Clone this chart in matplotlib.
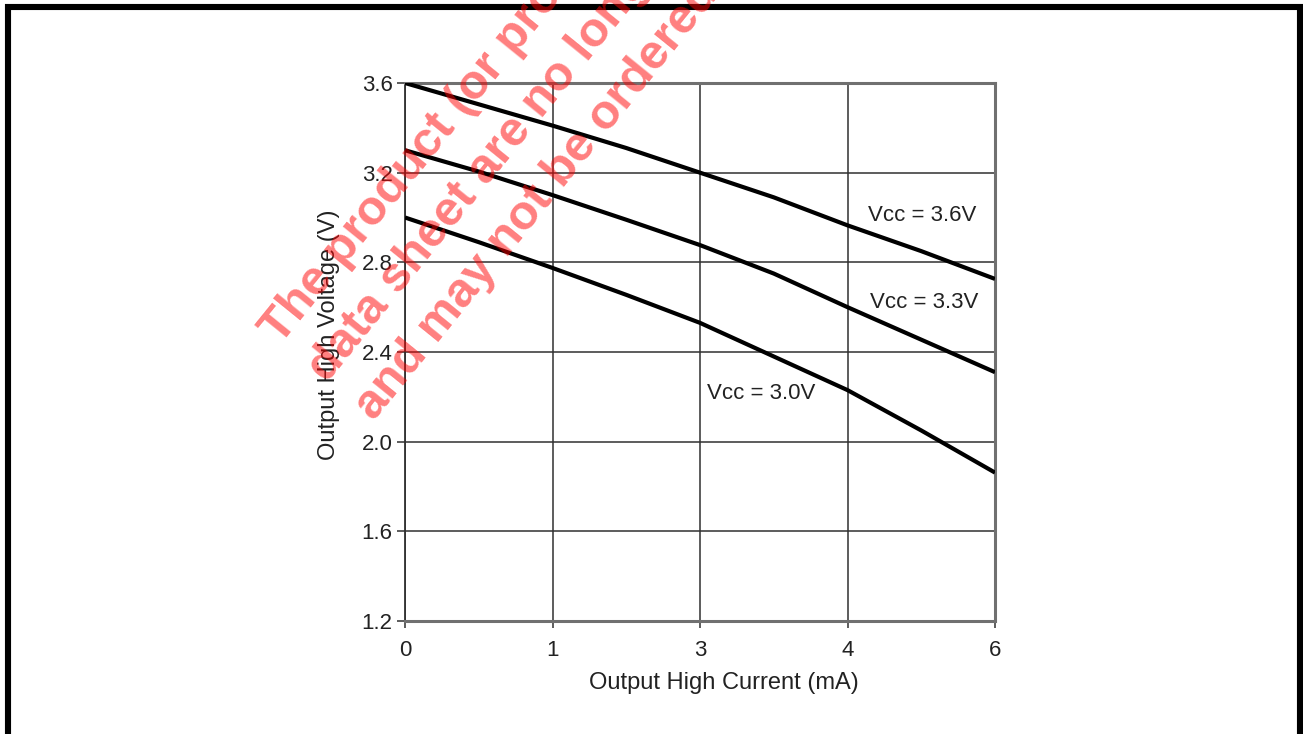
import matplotlib.pyplot as plt
from matplotlib.lines import Line2D

# x positions on the (equally spaced) grid, labels as printed on the chart
current_pos = [0, 0.5, 1, 1.5, 2, 2.5, 3, 3.5, 4]
tick_pos = [0, 1, 2, 3, 4]
tick_labels = ['0', '1', '3', '4', '6']

voh_36 = [3.60, 3.505, 3.41, 3.31, 3.20, 3.09, 2.965, 2.85, 2.726]
voh_33 = [3.30, 3.205, 3.10, 2.99, 2.877, 2.75, 2.60, 2.455, 2.31]
voh_30 = [3.00, 2.89, 2.775, 2.655, 2.53, 2.38, 2.23, 2.05, 1.862]

curve_labels = ['Vcc = 3.6V', 'Vcc = 3.3V', 'Vcc = 3.0V']
label_xy = [(3.14, 3.011), (3.15, 2.619), (2.05, 2.217)]

plt.rcParams['font.family'] = ['Liberation Sans', 'DejaVu Sans']

fig = plt.figure(figsize=(13.03, 7.34), dpi=100)
ax = fig.add_axes([405 / 1303, 113 / 734, 590 / 1303, 538 / 734])

for ys in (voh_36, voh_33, voh_30):
    ax.plot(current_pos, ys, color='black', lw=3.0, solid_capstyle='butt', zorder=3)

for txt, (x, y) in zip(curve_labels, label_xy):
    ax.text(x, y, txt, fontsize=16, color='#222222', ha='left', va='center', zorder=4)

ax.set_xlim(0, 4)
ax.set_ylim(1.2, 3.6)
ax.set_xticks(tick_pos)
ax.set_xticklabels(tick_labels)
ax.set_yticks([1.2, 1.6, 2.0, 2.4, 2.8, 3.2, 3.6])
ax.set_yticklabels(['1.2', '1.6', '2.0', '2.4', '2.8', '3.2', '3.6'])
ax.grid(True, color='#303030', lw=1.1, zorder=1)
ax.tick_params(axis='both', labelsize=16, colors='#303030', labelcolor='#222222', width=1.1)
ax.tick_params(axis='y', length=6, pad=3)
ax.tick_params(axis='x', length=5, pad=8.5)

for side in ('top', 'right', 'bottom'):
    ax.spines[side].set_color('#707070')
    ax.spines[side].set_linewidth(2.2)
ax.spines['left'].set_color('#303030')
ax.spines['left'].set_linewidth(1.3)

ax.set_xlabel('Output High Current (mA)', fontsize=17, color='#222222')
ax.set_ylabel('Output High Voltage (V)', fontsize=17, color='#222222')
ax.xaxis.set_label_coords(0.54, -0.095)
ax.yaxis.set_label_coords(-0.110, 0.532)

# watermark (anchor = start of the last line's baseline)
fig.text(362 / 1303, 1 - 412 / 734,
         'The product (or products) described in this\n'
         'data sheet are no longer in production\n'
         'and may not be ordered.',
         fontsize=35, fontweight='bold', color='red', alpha=0.5,
         rotation=51, rotation_mode='anchor', ha='left', va='baseline',
         multialignment='left', linespacing=1.45, zorder=10)

# frame around the picture (no bottom edge)
frame_kw = dict(color='black', lw=4.4, transform=fig.transFigure, solid_capstyle='butt')
fig.add_artist(Line2D([8 / 1303, 8 / 1303], [0, 1 - 4 / 734], **frame_kw))
fig.add_artist(Line2D([5 / 1303, 1], [1 - 7 / 734, 1 - 7 / 734], **frame_kw))
fig.add_artist(Line2D([1300 / 1303, 1300 / 1303], [0, 1 - 4 / 734], **frame_kw))

fig.savefig('out.png', dpi=100)
